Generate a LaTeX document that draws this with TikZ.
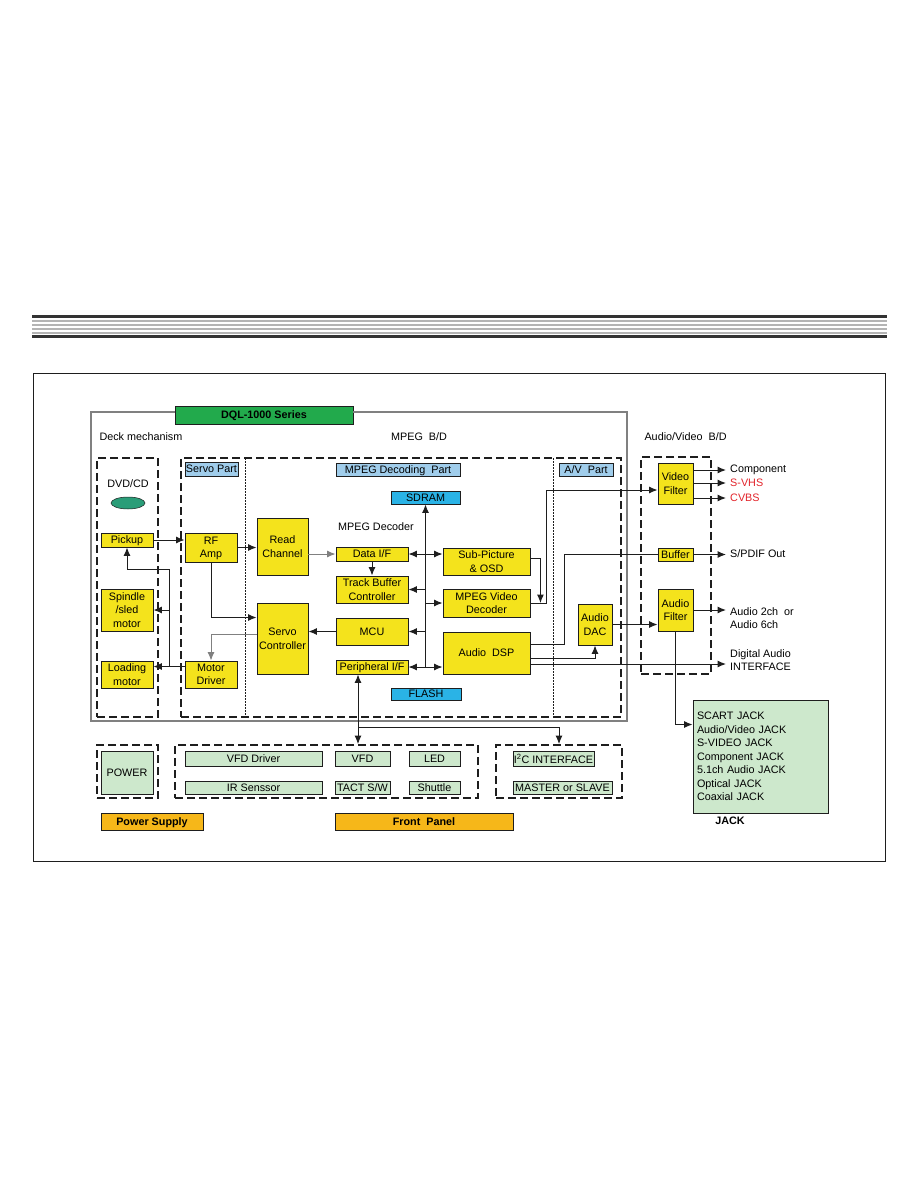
\documentclass[tikz,border=0pt]{standalone}
\usepackage{fontspec}
\setmainfont{Liberation Sans}
\usepackage{xcolor}
\definecolor{chip}{HTML}{F4E31C}
\definecolor{paleblue}{HTML}{A0CDEB}
\definecolor{skyblue}{HTML}{2AB3E6}
\definecolor{palegreen}{HTML}{CDE8CC}
\definecolor{amber}{HTML}{F6B719}
\definecolor{series}{HTML}{22AA4C}
\definecolor{disc}{HTML}{2A9D78}
\definecolor{alert}{HTML}{E2232A}
\definecolor{char}{HTML}{1E1E1E}
\definecolor{hdark}{HTML}{333333}
\definecolor{hgray}{HTML}{B4B4B4}
\usepackage{tikz}
\usetikzlibrary{arrows.meta}

\begin{document}
\begin{tikzpicture}[x=1pt,y=-1pt,font=\fontsize{10.8}{13.5}\selectfont,
  blk/.style={draw=char,line width=0.9pt,inner sep=0pt,align=center,text depth=0pt},
  ybox/.style={blk,fill=chip},
  bbox/.style={blk,fill=paleblue},
  cbox/.style={blk,fill=skyblue},
  gbox/.style={blk,fill=palegreen},
  obox/.style={blk,fill=amber,font=\fontsize{10.8}{13.5}\selectfont\bfseries},
  sz/.style 2 args={minimum width=#1pt,minimum height=#2pt},
  dashbox/.style={draw=char,line width=1.8pt,dash pattern=on 8pt off 4pt,inner sep=0pt},
  arr/.style={-{Latex[length=8.5pt,width=7pt]},char,line width=1pt},
  darr/.style={{Latex[length=8.5pt,width=7pt]}-{Latex[length=8.5pt,width=7pt]},char,line width=1pt},
  outtxt/.style={anchor=west,inner xsep=4pt,inner ysep=1pt,align=left}]
  \useasboundingbox (0,0) rectangle (918,1188);
  % header rule
  \fill[hdark] (32,315) rectangle (887,318);
  \foreach \y in {320,324,328,332}
    \fill[hgray] (32,\y) rectangle (887,\y+2);
  \fill[hdark] (32,335) rectangle (887,338);
  % page frame
  \draw[char,line width=1pt] (33,373) rectangle (885,861);
  % series title and board frame
  \node[blk,fill=series,sz={178}{18},font=\fontsize{10.8}{13.5}\selectfont\bfseries] (dql) at (264,415) {DQL-1000 Series};
  \draw[gray,line width=1.2pt] (175,412) -- (91,412) -- (91,721) -- (627,721) -- (627,412) -- (353,412);
  \node[anchor=west] (decklbl) at (96,437) {Deck mechanism};
  \node (mpeglbl) at (419,437) {MPEG\ \ B/D};
  \node[anchor=west] (avlbl) at (641,437) {Audio/Video\ \ B/D};
  % dashed groups
  \node[dashbox,sz={61}{259}] (deck) at (127.5,587.5) {};
  \node[dashbox,sz={440}{259}] (mpegbd) at (401,587.5) {};
  \node[dashbox,sz={70}{217}] (avbd) at (676,565.5) {};
  \node[dashbox,sz={61}{53}] (powerbox) at (127.5,771.5) {};
  \node[dashbox,sz={303}{53}] (frontbox) at (326.5,771.5) {};
  \node[dashbox,sz={126}{53}] (i2cbox) at (559,771.5) {};
  \draw[char,line width=0.7pt,dash pattern=on 1.5pt off 1.5pt] (245,458) -- (245,717);
  \draw[char,line width=0.7pt,dash pattern=on 1.5pt off 1.5pt] (553,458) -- (553,717);
  % deck mechanism
  \node (dvdlbl) at (128,484) {DVD/CD};
  \fill[disc,draw=char,line width=0.5pt] (128,503) ellipse [x radius=17pt,y radius=6pt];
  \node[ybox,sz={52}{14}] (pickup) at (127,540) {Pickup};
  \node[ybox,sz={52}{42}] (spindle) at (127,610) {Spindle\\/sled\\motor};
  \node[ybox,sz={52}{27}] (loading) at (127,674.5) {Loading\\motor};
  % servo part
  \node[bbox,sz={53}{14}] (servopart) at (211.5,469) {Servo Part};
  \node[ybox,sz={52}{29}] (rfamp) at (211,547.5) {RF\\Amp};
  \node[ybox,sz={52}{27}] (motordrv) at (211,674.5) {Motor\\Driver};
  % mpeg decoding part
  \node[bbox,sz={124}{13}] (mpegpart) at (398,469.5) {MPEG Decoding\ \ Part};
  \node[cbox,sz={69}{13}] (sdram) at (425.5,497.5) {SDRAM};
  \node (declbl) at (376,527) {MPEG Decoder};
  \node[ybox,sz={51}{57}] (readch) at (282.5,546.5) {Read\\Channel};
  \node[ybox,sz={51}{71}] (servoctl) at (282.5,638.5) {Servo\\Controller};
  \node[ybox,sz={72}{14}] (dataif) at (372,554) {Data I/F};
  \node[ybox,sz={72}{27}] (trackbuf) at (372,589.5) {Track Buffer\\Controller};
  \node[ybox,sz={72}{27}] (mcu) at (372,631.5) {MCU};
  \node[ybox,sz={72}{14}] (periph) at (372,667) {Peripheral I/F};
  \node[ybox,sz={87}{27}] (subpic) at (486.5,561.5) {Sub-Picture\\\& OSD};
  \node[ybox,sz={87}{28}] (mpegvid) at (486.5,603) {MPEG Video\\Decoder};
  \node[ybox,sz={87}{42}] (audiodsp) at (486.5,653) {Audio\ \ DSP};
  \node[cbox,sz={70}{12}] (flash) at (426,694) {FLASH};
  % a/v part
  \node[bbox,sz={54}{13}] (avpart) at (586,469.5) {A/V\ \ Part};
  \node[ybox,sz={34}{41}] (audiodac) at (595,624.5) {Audio\\DAC};
  % audio/video board
  \node[ybox,sz={35}{41}] (vidfilt) at (675.5,483.5) {Video\\Filter};
  \node[ybox,sz={35}{13}] (buffer) at (675.5,554.5) {Buffer};
  \node[ybox,sz={35}{42}] (audfilt) at (675.5,610) {Audio\\Filter};
  \node[outtxt] (comp) at (726,470) {Component};
  \node[outtxt,text=alert] (svhs) at (726,483) {S-VHS};
  \node[outtxt,text=alert] (cvbs) at (726,498) {CVBS};
  \node[outtxt] (spdif) at (726,554) {S/PDIF Out};
  \node[outtxt] (aud26) at (726,618) {Audio 2ch\ \ or\\Audio 6ch};
  \node[outtxt] (digaud) at (726,660) {Digital Audio\\INTERFACE};
  % jack panel
  \node[gbox,text depth=,sz={135}{113},text width=127pt,align=left] (jack) at (760.5,756.5)
    {SCART JACK\\Audio/Video JACK\\S-VIDEO JACK\\Component JACK\\5.1ch Audio JACK\\Optical JACK\\Coaxial JACK};
  \node[font=\fontsize{10.8}{13.5}\selectfont\bfseries] (jacklbl) at (730,821) {JACK};
  % power, front panel, i2c
  \node[gbox,sz={52}{43}] (power) at (127,772.5) {POWER};
  \node[gbox,sz={137}{15}] (vfddrv) at (253.5,758.5) {VFD Driver};
  \node[gbox,sz={137}{13}] (irsens) at (253.5,787.5) {IR Senssor};
  \node[gbox,sz={55}{15}] (vfd) at (362.5,758.5) {VFD};
  \node[gbox,sz={55}{13}] (tact) at (362.5,787.5) {TACT S/W};
  \node[gbox,sz={51}{15}] (led) at (434.5,758.5) {LED};
  \node[gbox,sz={51}{13}] (shuttle) at (434.5,787.5) {Shuttle};
  \node[gbox,sz={81}{15}] (i2c) at (553.5,758.5) {I\textsuperscript{2}C INTERFACE};
  \node[gbox,sz={99}{13}] (master) at (562.5,787.5) {MASTER or SLAVE};
  \node[obox,sz={102}{17}] (powersup) at (152,821.5) {Power Supply};
  \node[obox,sz={178}{17}] (frontpanel) at (424,821.5) {Front\ \ Panel};
  % deck side connections
  \draw[arr] (pickup.east) -- (pickup.east -| rfamp.west);
  \draw[arr] (rfamp.east) -- (rfamp.east -| readch.west);
  \draw[arr] (rfamp.south) |- ([yshift=21pt]servoctl.west);
  \draw[arr,gray] ([yshift=4pt]servoctl.west) -| (motordrv.north);
  \draw[arr] ([yshift=8pt]motordrv.west) -- ([yshift=8pt]loading.east);
  \coordinate (mjoin) at (169,666.5);
  \coordinate (mtop) at (169,569);
  \draw[arr] (mjoin) -- (mtop) -| (pickup.south);
  \draw[arr] (mjoin |- spindle.east) -- (spindle.east);
  % decoder connections
  \draw[arr,gray] (readch.east |- dataif.west) -- (dataif.west);
  \draw[arr] (dataif.south) -- (trackbuf.north);
  \draw[arr] (sdram.south |- periph.east) -- (sdram.south);
  \draw[darr] (dataif.east) -- (dataif.east -| subpic.west);
  \draw[arr] (sdram.south |- trackbuf.east) -- (trackbuf.east);
  \draw[arr] (sdram.south |- mpegvid.west) -- (mpegvid.west);
  \draw[arr] (sdram.south |- mcu.east) -- (mcu.east);
  \draw[darr] (periph.east) -- (periph.east -| audiodsp.west);
  \draw[arr] (mcu.west) -- (mcu.west -| servoctl.east);
  \draw[darr] ([xshift=-14pt]periph.south) -- ([xshift=-14pt]periph.south |- frontbox.north);
  \coordinate (pjoin) at (358,727);
  \draw[arr] (pjoin) -| (i2cbox.north);
  % video and audio outputs
  \draw[arr] ([yshift=3pt]subpic.east) -| ([xshift=10pt]mpegvid.east);
  \draw[arr] (mpegvid.east) -- ++(16,0) |- ([yshift=-6.5pt]vidfilt.west);
  \draw[char,line width=1pt] ([yshift=9pt]audiodsp.east) -- ++(34,0) |- (buffer.west);
  \draw[arr] ([yshift=-5pt]audiodsp.east) -| (audiodac.south);
  \draw[arr] (audiodac.east) -- (audiodac.east -| audfilt.west);
  \draw[arr] ([yshift=-11pt]audiodsp.east) -- ([yshift=-11pt]audiodsp.east -| digaud.west);
  \draw[arr] (vidfilt.east |- comp.west) -- (comp.west);
  \draw[arr] (vidfilt.east |- svhs.west) -- (svhs.west);
  \draw[arr] (vidfilt.east |- cvbs.west) -- (cvbs.west);
  \draw[arr] (buffer.east) -- (buffer.east -| spdif.west);
  \draw[arr] (audfilt.east) -- (audfilt.east -| aud26.west);
  \draw[arr] (audfilt.south) |- ([yshift=32pt]jack.west);
\end{tikzpicture}
\end{document}
